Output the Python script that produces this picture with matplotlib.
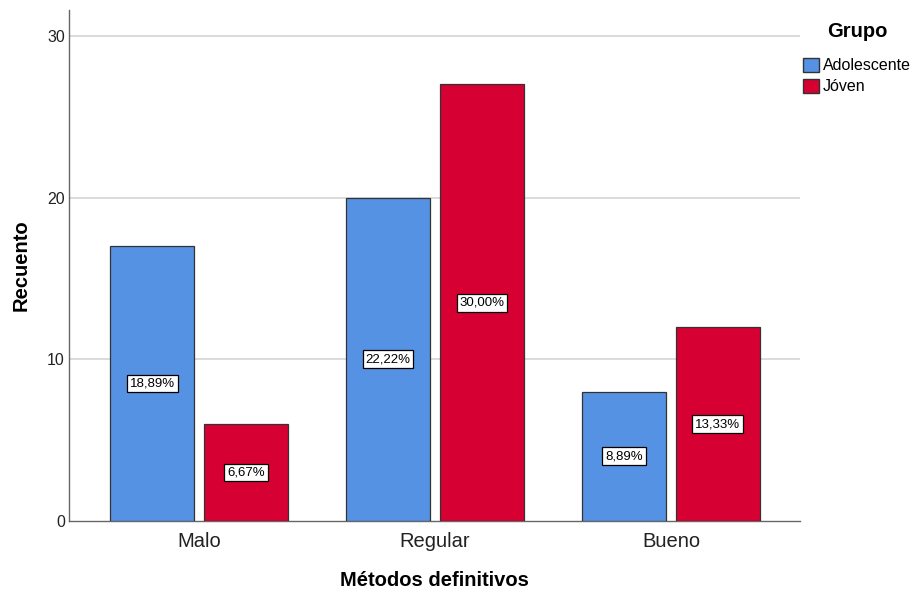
import matplotlib.pyplot as plt
from matplotlib.patches import Patch
import numpy as np

plt.rcParams['font.family'] = ['Liberation Sans', 'DejaVu Sans']

categorias = ["Malo", "Regular", "Bueno"]
grupos = ["Adolescente", "Jóven"]
adolescente = [17, 20, 8]
joven = [6, 27, 12]
colores = ["#5592E3", "#D60032"]


def porcentaje(v, total):
    return f"{100 * v / total:.2f}%".replace(".", ",")


def main():
    total = sum(adolescente) + sum(joven)
    x = np.arange(len(categorias))
    width = 0.356
    offset = 0.199

    fig = plt.figure(figsize=(9.16, 5.92), dpi=100)
    ax = fig.add_axes([0.0753, 0.1199, 0.7981, 0.8631])

    for i, serie in enumerate([adolescente, joven]):
        pos = x + (i * 2 - 1) * offset
        bars = ax.bar(pos, serie, width, color=colores[i], edgecolor="#333333",
                      linewidth=0.9, zorder=3)
        for b, v in zip(bars, serie):
            ax.text(b.get_x() + b.get_width() / 2, v / 2, porcentaje(v, total),
                    ha="center", va="center", fontsize=9.5, zorder=4,
                    bbox=dict(boxstyle="square,pad=0.22", facecolor="white",
                              edgecolor="black", linewidth=0.9))

    ax.set_xlim(-0.551, 2.547)
    ax.set_ylim(0, 31.6)
    ax.set_yticks([0, 10, 20, 30])
    for y in [10, 20, 30]:
        ax.axhline(y, color="#d4d4d4", linewidth=1.2, zorder=1)

    ax.set_xticks(x)
    ax.set_xticklabels(categorias, fontsize=14.5, color="#222222")
    ax.tick_params(axis="x", length=0, pad=8)
    ax.tick_params(axis="y", length=0, labelsize=11.5, colors="#222222", pad=3)

    for s in ["top", "right"]:
        ax.spines[s].set_visible(False)
    for s in ["left", "bottom"]:
        ax.spines[s].set_color("#666666")
        ax.spines[s].set_linewidth(1.0)

    ax.set_xlabel("Métodos definitivos", fontsize=14.5, fontweight="bold", labelpad=14)
    ax.set_ylabel("Recuento", fontsize=14.5, fontweight="bold", labelpad=12)

    handles = [Patch(facecolor=c, edgecolor="#333333", label=g)
               for c, g in zip(colores, grupos)]
    leg = fig.legend(handles=handles, title="Grupo", loc="upper left",
                     bbox_to_anchor=(0.877, 0.963), frameon=False, fontsize=11.5,
                     handlelength=1.0, handleheight=1.0, handletextpad=0.2,
                     labelspacing=0.35, borderaxespad=0, borderpad=0)
    leg.get_title().set_fontweight("bold")
    leg.get_title().set_fontsize(14.5)
    leg._legend_box.align = "center"
    leg._legend_box.sep = 12

    fig.savefig("out.png", dpi=100)
    plt.close(fig)


if __name__ == '__main__':
    main()
